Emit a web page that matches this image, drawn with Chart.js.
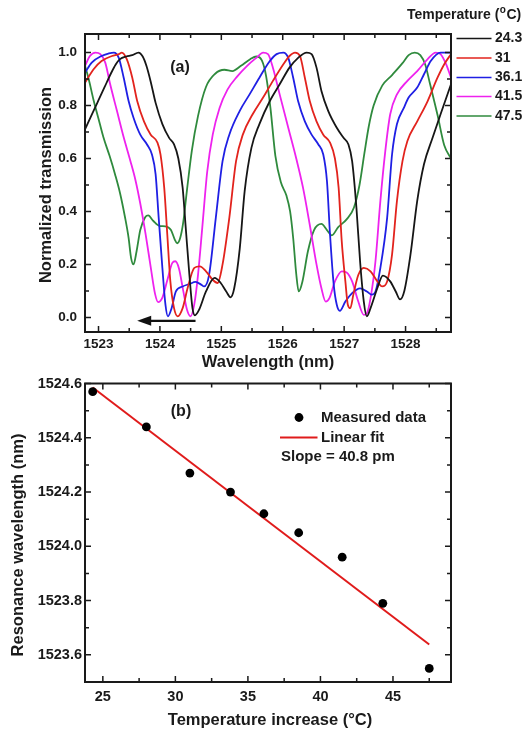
<!DOCTYPE html>
<html lang="en">
<head>
<meta charset="utf-8">
<title>Thermal tuning of the resonance</title>
<script src="https://cdn.jsdelivr.net/npm/chart.js@4.4.1/dist/chart.umd.min.js"></script>
<style>
  html, body { margin: 0; padding: 0; background: #ffffff; }
  #fig { position: relative; width: 530px; height: 731px; overflow: hidden; background: #ffffff; }
  #spectra { position: absolute; left: 0; top: 0; }
  #shift { position: absolute; left: 0; top: 370px; }
</style>
</head>
<body>
<div id="fig">
  <canvas id="spectra" width="530" height="376"></canvas>
  <canvas id="shift" width="530" height="361"></canvas>
</div>
<script>
// ---------- Panel (a): normalized transmission spectra ----------
const TEMPERATURES = ['24.3', '31', '36.1', '41.5', '47.5'];
const COLORS = ['#161616', '#e2231d', '#1f1fe4', '#ee22ee', '#2f8a3d'];

const WL_243 = [1522.78, 1522.90, 1523.00, 1523.10, 1523.20, 1523.28, 1523.35, 1523.45, 1523.55, 1523.65, 1523.72, 1523.78, 1523.85, 1523.93, 1524.04, 1524.15, 1524.23, 1524.30, 1524.37, 1524.42, 1524.48, 1524.53, 1524.57, 1524.64, 1524.75, 1524.89, 1524.99, 1525.08, 1525.15, 1525.21, 1525.30, 1525.38, 1525.49, 1525.62, 1525.79, 1525.95, 1526.11, 1526.25, 1526.39, 1526.47, 1526.55, 1526.63, 1526.74, 1526.88, 1526.99, 1527.07, 1527.13, 1527.20, 1527.26, 1527.32, 1527.37, 1527.43, 1527.54, 1527.63, 1527.75, 1527.84, 1527.91, 1527.98, 1528.08, 1528.19, 1528.30, 1528.44, 1528.57, 1528.74];
const T_243  = [0.71, 0.77, 0.82, 0.87, 0.92, 0.955, 0.975, 0.985, 0.99, 1.0, 0.985, 0.95, 0.89, 0.81, 0.73, 0.678, 0.653, 0.60, 0.49, 0.34, 0.16, 0.035, 0.008, 0.03, 0.098, 0.149, 0.13, 0.098, 0.076, 0.11, 0.26, 0.477, 0.64, 0.73, 0.817, 0.88, 0.943, 0.98, 1.0, 0.994, 0.943, 0.855, 0.78, 0.716, 0.678, 0.653, 0.59, 0.414, 0.21, 0.06, 0.004, 0.035, 0.11, 0.158, 0.136, 0.098, 0.068, 0.10, 0.237, 0.44, 0.578, 0.678, 0.767, 0.88];

const WL_310 = [1522.78, 1522.92, 1523.05, 1523.22, 1523.33, 1523.38, 1523.46, 1523.55, 1523.63, 1523.74, 1523.85, 1523.96, 1524.01, 1524.07, 1524.12, 1524.17, 1524.23, 1524.29, 1524.37, 1524.45, 1524.56, 1524.65, 1524.75, 1524.86, 1524.94, 1525.02, 1525.13, 1525.24, 1525.35, 1525.51, 1525.68, 1525.84, 1526.01, 1526.11, 1526.20, 1526.28, 1526.36, 1526.44, 1526.55, 1526.66, 1526.77, 1526.85, 1526.91, 1526.96, 1527.02, 1527.06, 1527.10, 1527.15, 1527.23, 1527.32, 1527.43, 1527.54, 1527.62, 1527.70, 1527.78, 1527.86, 1527.95, 1528.03, 1528.19, 1528.36, 1528.52, 1528.63, 1528.74];
const T_310  = [0.886, 0.937, 0.968, 0.987, 0.994, 1.0, 0.975, 0.905, 0.817, 0.74, 0.69, 0.66, 0.615, 0.49, 0.313, 0.136, 0.035, 0.004, 0.035, 0.11, 0.187, 0.193, 0.174, 0.142, 0.13, 0.20, 0.376, 0.59, 0.69, 0.767, 0.83, 0.893, 0.956, 0.987, 1.0, 0.987, 0.905, 0.817, 0.74, 0.69, 0.66, 0.60, 0.49, 0.29, 0.136, 0.048, 0.035, 0.086, 0.16, 0.187, 0.174, 0.136, 0.117, 0.136, 0.237, 0.44, 0.59, 0.666, 0.74, 0.817, 0.905, 0.956, 0.994];

const WL_361 = [1522.78, 1522.89, 1523.05, 1523.16, 1523.25, 1523.33, 1523.41, 1523.49, 1523.57, 1523.68, 1523.79, 1523.87, 1523.93, 1523.98, 1524.04, 1524.09, 1524.13, 1524.19, 1524.26, 1524.37, 1524.48, 1524.58, 1524.67, 1524.72, 1524.80, 1524.91, 1525.02, 1525.13, 1525.30, 1525.46, 1525.62, 1525.79, 1525.90, 1526.01, 1526.09, 1526.17, 1526.25, 1526.36, 1526.47, 1526.58, 1526.66, 1526.72, 1526.77, 1526.83, 1526.88, 1526.93, 1527.02, 1527.13, 1527.26, 1527.37, 1527.45, 1527.51, 1527.59, 1527.70, 1527.78, 1527.86, 1527.97, 1528.05, 1528.19, 1528.30, 1528.41, 1528.57, 1528.74];
const T_361  = [0.924, 0.962, 0.987, 0.996, 1.0, 0.98, 0.905, 0.817, 0.754, 0.69, 0.653, 0.615, 0.54, 0.376, 0.187, 0.048, 0.004, 0.035, 0.098, 0.117, 0.126, 0.134, 0.124, 0.117, 0.16, 0.376, 0.59, 0.69, 0.78, 0.842, 0.905, 0.968, 0.994, 1.0, 0.98, 0.905, 0.817, 0.74, 0.69, 0.653, 0.615, 0.515, 0.313, 0.124, 0.048, 0.025, 0.06, 0.092, 0.11, 0.098, 0.086, 0.098, 0.187, 0.376, 0.615, 0.73, 0.79, 0.83, 0.868, 0.918, 0.968, 1.0, 1.0];

const WL_415 = [1522.78, 1522.86, 1522.95, 1523.03, 1523.11, 1523.19, 1523.30, 1523.41, 1523.52, 1523.60, 1523.68, 1523.77, 1523.85, 1523.92, 1523.97, 1524.04, 1524.12, 1524.20, 1524.25, 1524.31, 1524.38, 1524.44, 1524.50, 1524.56, 1524.62, 1524.69, 1524.77, 1524.86, 1524.97, 1525.10, 1525.26, 1525.42, 1525.57, 1525.68, 1525.76, 1525.84, 1525.95, 1526.09, 1526.22, 1526.33, 1526.44, 1526.55, 1526.63, 1526.70, 1526.76, 1526.85, 1526.96, 1527.04, 1527.13, 1527.23, 1527.32, 1527.37, 1527.43, 1527.51, 1527.59, 1527.67, 1527.75, 1527.86, 1528.03, 1528.19, 1528.36, 1528.49, 1528.57, 1528.66, 1528.74];
const T_415  = [0.95, 0.987, 1.0, 0.994, 0.962, 0.88, 0.78, 0.68, 0.59, 0.52, 0.43, 0.31, 0.19, 0.09, 0.058, 0.075, 0.14, 0.205, 0.212, 0.185, 0.10, 0.03, 0.004, 0.05, 0.16, 0.34, 0.55, 0.69, 0.79, 0.86, 0.91, 0.95, 0.98, 1.0, 0.994, 0.943, 0.842, 0.716, 0.60, 0.49, 0.35, 0.20, 0.11, 0.06, 0.073, 0.136, 0.174, 0.17, 0.136, 0.06, 0.01, 0.016, 0.073, 0.212, 0.44, 0.628, 0.767, 0.842, 0.893, 0.93, 0.975, 1.0, 0.994, 0.956, 0.905];

const WL_475 = [1522.78, 1522.84, 1522.92, 1523.00, 1523.08, 1523.18, 1523.27, 1523.35, 1523.43, 1523.49, 1523.53, 1523.57, 1523.62, 1523.68, 1523.76, 1523.81, 1523.89, 1524.00, 1524.09, 1524.18, 1524.24, 1524.28, 1524.33, 1524.38, 1524.44, 1524.52, 1524.62, 1524.75, 1524.90, 1525.05, 1525.18, 1525.32, 1525.47, 1525.57, 1525.66, 1525.73, 1525.80, 1525.88, 1525.97, 1526.06, 1526.12, 1526.17, 1526.22, 1526.26, 1526.32, 1526.41, 1526.51, 1526.63, 1526.72, 1526.80, 1526.90, 1527.04, 1527.16, 1527.25, 1527.33, 1527.40, 1527.48, 1527.62, 1527.78, 1527.95, 1528.05, 1528.15, 1528.24, 1528.32, 1528.40, 1528.52, 1528.63, 1528.74];
const T_475  = [0.95, 0.90, 0.82, 0.75, 0.68, 0.61, 0.54, 0.47, 0.38, 0.30, 0.225, 0.20, 0.25, 0.33, 0.378, 0.385, 0.365, 0.345, 0.344, 0.33, 0.295, 0.28, 0.30, 0.36, 0.48, 0.63, 0.76, 0.87, 0.92, 0.935, 0.93, 0.95, 0.975, 0.985, 0.97, 0.91, 0.79, 0.61, 0.51, 0.46, 0.40, 0.30, 0.164, 0.098, 0.135, 0.25, 0.33, 0.353, 0.33, 0.31, 0.34, 0.37, 0.415, 0.50, 0.62, 0.72, 0.80, 0.875, 0.915, 0.96, 0.99, 1.0, 0.99, 0.955, 0.88, 0.765, 0.65, 0.60];

const SPECTRA_WL = [WL_243, WL_310, WL_361, WL_415, WL_475];
const SPECTRA_T  = [T_243, T_310, T_361, T_415, T_475];

const X_TICKS_A = [1523, 1524, 1525, 1526, 1527, 1528];
const Y_TICKS_A = [0.0, 0.2, 0.4, 0.6, 0.8, 1.0];
// blue-shift arrow along the baseline (nm, transmission)
const ARROW_FROM_NM = 1524.58;
const ARROW_TO_NM = 1523.63;
const ARROW_LEVEL = -0.013;

// ---------- Panel (b): resonance wavelength vs temperature ----------
const TEMP_INCREASE = [24.3, 28.0, 31.0, 33.8, 36.1, 38.5, 41.5, 44.3, 47.5];
const RESONANCE_NM  = [1524.57, 1524.44, 1524.27, 1524.20, 1524.12, 1524.05, 1523.96, 1523.79, 1523.55];
const SLOPE_PM = 40.8;            // pm per degree C
const FIT_SPAN = [24.3, 47.5];    // temperature range of the fitted line
const FIT_START_NM = 1524.585;    // fitted wavelength at the first temperature
const X_TICKS_B = [25, 30, 35, 40, 45];
const Y_TICKS_B = [1523.6, 1523.8, 1524.0, 1524.2, 1524.4, 1524.6];

const FIT_NM = FIT_SPAN.map(t => FIT_START_NM - (SLOPE_PM / 1000) * (t - FIT_SPAN[0]));

// ---------- shared drawing helpers ----------
const INK = '#1a1a1a';
const FACE = '"Liberation Sans", Arial, Helvetica, sans-serif';
const bold = size => `bold ${size}px ${FACE}`;

function pairs(xs, ys) { return xs.map((x, i) => ({ x: x, y: ys[i] })); }

function minorValues(majors, min, max) {
  const half = (majors[1] - majors[0]) / 2;
  const out = [];
  const k0 = Math.ceil((min - majors[0]) / half - 1e-9);
  const k1 = Math.floor((max - majors[0]) / half + 1e-9);
  for (let k = k0; k <= k1; k++) {
    if (Math.abs(k % 2) === 1) {
      const v = majors[0] + k * half;
      if (v > min + 1e-9 && v < max - 1e-9) out.push(v);
    }
  }
  return out;
}

// closed frame with inward major/minor ticks on all four sides
const boxTicks = {
  id: 'boxTicks',
  afterDatasetsDraw(chart, args, o) {
    const { ctx, chartArea: a } = chart;
    const x = chart.scales.x, y = chart.scales.y;
    const majX = x.ticks.map(t => t.value), majY = y.ticks.map(t => t.value);
    ctx.save();
    ctx.strokeStyle = INK;
    ctx.lineWidth = 1.5;
    ctx.beginPath();
    const vx = (vals, len) => vals.forEach(v => {
      const p = x.getPixelForValue(v);
      ctx.moveTo(p, a.bottom); ctx.lineTo(p, a.bottom - len);
      ctx.moveTo(p, a.top); ctx.lineTo(p, a.top + len);
    });
    const hy = (vals, len) => vals.forEach(v => {
      const p = y.getPixelForValue(v);
      ctx.moveTo(a.left, p); ctx.lineTo(a.left + len, p);
      ctx.moveTo(a.right, p); ctx.lineTo(a.right - len, p);
    });
    vx(majX, o.major); vx(minorValues(majX, x.min, x.max), o.minor);
    hy(majY, o.major); hy(minorValues(majY, y.min, y.max), o.minor);
    ctx.stroke();
    ctx.lineWidth = 2;
    ctx.strokeRect(a.left, a.top, a.right - a.left, a.bottom - a.top);
    ctx.restore();
  }
};

// free text (axis titles, panel tags)
const labels = {
  id: 'labels',
  afterDraw(chart, args, o) {
    const ctx = chart.ctx;
    (o.items || []).forEach(t => {
      ctx.save();
      ctx.fillStyle = INK;
      ctx.font = bold(t.size);
      ctx.textAlign = t.align || 'center';
      ctx.textBaseline = 'middle';
      ctx.translate(t.x, t.y);
      if (t.rot) ctx.rotate(t.rot);
      ctx.fillText(t.text, 0, 0);
      ctx.restore();
    });
  }
};

// temperature legend beside panel (a)
const tempLegend = {
  id: 'tempLegend',
  afterDraw(chart, args, o) {
    const ctx = chart.ctx;
    ctx.save();
    ctx.fillStyle = INK;
    ctx.textBaseline = 'middle';
    ctx.textAlign = 'left';
    let x = o.titleX;
    ctx.font = bold(14);
    ctx.fillText('Temperature (', x, o.titleY);
    x += ctx.measureText('Temperature (').width;
    ctx.font = bold(10);
    ctx.fillText('o', x + 0.5, o.titleY - 5);
    x += ctx.measureText('o').width + 1;
    ctx.font = bold(14);
    ctx.fillText('C)', x, o.titleY);
    chart.data.datasets.forEach((ds, i) => {
      const yy = o.rowY[i];
      ctx.strokeStyle = ds.borderColor;
      ctx.lineWidth = 1.6;
      ctx.beginPath();
      ctx.moveTo(o.lineX0, yy); ctx.lineTo(o.lineX1, yy);
      ctx.stroke();
      ctx.font = bold(14);
      ctx.fillText(ds.label, o.textX, yy);
    });
    ctx.restore();
  }
};

// arrow showing the direction of the resonance shift
const shiftArrow = {
  id: 'shiftArrow',
  afterDatasetsDraw(chart, args, o) {
    const { ctx } = chart;
    const x = chart.scales.x, y = chart.scales.y;
    const x0 = x.getPixelForValue(o.from), x1 = x.getPixelForValue(o.to);
    const yy = y.getPixelForValue(o.level);
    ctx.save();
    ctx.strokeStyle = '#111'; ctx.fillStyle = '#111';
    ctx.lineWidth = 2.2;
    ctx.beginPath(); ctx.moveTo(x0, yy); ctx.lineTo(x1 + 10, yy); ctx.stroke();
    ctx.beginPath();
    ctx.moveTo(x1, yy); ctx.lineTo(x1 + 14, yy - 5); ctx.lineTo(x1 + 14, yy + 5);
    ctx.closePath(); ctx.fill();
    ctx.restore();
  }
};

// legend inside panel (b)
const fitLegend = {
  id: 'fitLegend',
  afterDraw(chart, args, o) {
    const ctx = chart.ctx;
    const [pts, fit] = chart.data.datasets;
    ctx.save();
    ctx.fillStyle = pts.backgroundColor;
    ctx.beginPath(); ctx.arc(o.markX, o.rowY[0], pts.pointRadius, 0, Math.PI * 2); ctx.fill();
    ctx.strokeStyle = fit.borderColor; ctx.lineWidth = fit.borderWidth;
    ctx.beginPath(); ctx.moveTo(o.lineX0, o.rowY[1]); ctx.lineTo(o.lineX1, o.rowY[1]); ctx.stroke();
    ctx.fillStyle = INK;
    ctx.font = bold(15);
    ctx.textBaseline = 'middle';
    ctx.textAlign = 'left';
    ctx.fillText(pts.label, o.textX, o.rowY[0]);
    ctx.fillText(fit.label, o.textX, o.rowY[1]);
    ctx.fillText(`Slope = ${SLOPE_PM} pm`, o.slopeX, o.rowY[2]);
    ctx.restore();
  }
};

Chart.defaults.font.family = FACE;
Chart.defaults.color = INK;

// ---------- Panel (a) chart ----------
new Chart(document.getElementById('spectra'), {
  type: 'line',
  data: {
    datasets: TEMPERATURES.map((lab, i) => ({
      label: lab,
      data: pairs(SPECTRA_WL[i], SPECTRA_T[i]),
      borderColor: COLORS[i],
      borderWidth: 1.8,
      pointRadius: 0,
      fill: false,
      cubicInterpolationMode: 'monotone'
    }))
  },
  options: {
    responsive: false,
    animation: false,
    layout: { padding: { left: 0, right: 79, top: 34, bottom: 0 } },
    plugins: {
      legend: { display: false },
      tooltip: { enabled: false },
      tempLegend: { titleX: 407, titleY: 15, rowY: [38.5, 58, 77.5, 96.5, 116], lineX0: 456.5, lineX1: 491.5, textX: 495 },
      shiftArrow: { from: ARROW_FROM_NM, to: ARROW_TO_NM, level: ARROW_LEVEL },
      boxTicks: { major: 6, minor: 4 },
      labels: {
        items: [
          { text: 'Normalized transmission', x: 46.5, y: 185, size: 16.5, rot: -Math.PI / 2 },
          { text: 'Wavelength (nm)', x: 268, y: 362.5, size: 16.5 },
          { text: '(a)', x: 180, y: 67.5, size: 16 }
        ]
      }
    },
    scales: {
      x: {
        type: 'linear', min: 1522.78, max: 1528.74,
        afterBuildTicks: s => { s.ticks = X_TICKS_A.map(v => ({ value: v })); },
        afterFit: s => { s.height = 44; },
        grid: { display: false, drawTicks: false },
        border: { display: false },
        ticks: { font: { size: 13.5, weight: 'bold' }, color: INK, padding: 4, maxRotation: 0, autoSkip: false, callback: v => String(v) }
      },
      y: {
        type: 'linear', min: -0.055, max: 1.07,
        afterBuildTicks: s => { s.ticks = Y_TICKS_A.map(v => ({ value: v })); },
        afterFit: s => { s.width = 85; },
        grid: { display: false, drawTicks: false },
        border: { display: false },
        ticks: { font: { size: 13.5, weight: 'bold' }, color: INK, padding: 8, autoSkip: false, callback: v => Number(v).toFixed(1) }
      }
    }
  },
  plugins: [boxTicks, shiftArrow, tempLegend, labels]
});

// ---------- Panel (b) chart ----------
new Chart(document.getElementById('shift'), {
  type: 'scatter',
  data: {
    datasets: [
      {
        label: 'Measured data',
        data: pairs(TEMP_INCREASE, RESONANCE_NM),
        backgroundColor: '#000000',
        borderColor: '#000000',
        pointRadius: 4.4,
        pointBorderWidth: 0,
        showLine: false,
        order: 1
      },
      {
        type: 'line',
        label: 'Linear fit',
        data: pairs(FIT_SPAN, FIT_NM),
        borderColor: '#e01b1b',
        borderWidth: 2,
        pointRadius: 0,
        fill: false,
        order: 2
      }
    ]
  },
  options: {
    responsive: false,
    animation: false,
    layout: { padding: { left: 0, right: 79, top: 13.5, bottom: 0 } },
    plugins: {
      legend: { display: false },
      tooltip: { enabled: false },
      fitLegend: { markX: 299, lineX0: 280, lineX1: 317.5, textX: 321, slopeX: 281, rowY: [47.5, 67.5, 87] },
      boxTicks: { major: 6, minor: 4 },
      labels: {
        items: [
          { text: 'Resonance wavelength (nm)', x: 18, y: 175, size: 16.5, rot: -Math.PI / 2 },
          { text: 'Temperature increase (\u00B0C)', x: 270, y: 350.5, size: 16.5 },
          { text: '(b)', x: 181, y: 42, size: 16 }
        ]
      }
    },
    scales: {
      x: {
        type: 'linear', min: 23.77, max: 49.0,
        afterBuildTicks: s => { s.ticks = X_TICKS_B.map(v => ({ value: v })); },
        afterFit: s => { s.height = 49; },
        grid: { display: false, drawTicks: false },
        border: { display: false },
        ticks: { font: { size: 14.5, weight: 'bold' }, color: INK, padding: 6, maxRotation: 0, autoSkip: false, callback: v => String(v) }
      },
      y: {
        type: 'linear', min: 1523.5, max: 1524.6,
        afterBuildTicks: s => { s.ticks = Y_TICKS_B.map(v => ({ value: v })); },
        afterFit: s => { s.width = 85; },
        grid: { display: false, drawTicks: false },
        border: { display: false },
        ticks: { font: { size: 14.5, weight: 'bold' }, color: INK, padding: 3, autoSkip: false, callback: v => Number(v).toFixed(1) }
      }
    }
  },
  plugins: [boxTicks, fitLegend, labels]
});
</script>
</body>
</html>
